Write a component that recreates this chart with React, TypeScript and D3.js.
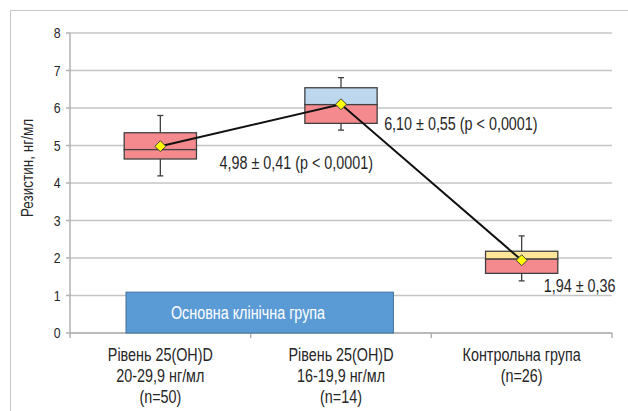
import React from "react";
import * as d3 from "d3";

const categories = ["g1", "g2", "g3"];
const categoryLines = [
  ["Рівень 25(OH)D", "20-29,9 нг/мл", "(n=50)"],
  ["Рівень 25(OH)D", "16-19,9 нг/мл", "(n=14)"],
  ["Контрольна група", "(n=26)"],
];
const means = [4.98, 6.1, 1.94];
const q1 = [4.64, 5.59, 1.59];
const medians = [4.89, 6.09, 1.97];
const q3 = [5.34, 6.54, 2.18];
const whiskerLow = [4.19, 5.41, 1.39];
const whiskerHigh = [5.8, 6.81, 2.59];
const upperColors = ["#F4898E", "#BDD7EE", "#FFE699"];
const lowerColor = "#F4898E";
const meanLabels = ["4,98 ± 0,41 (p < 0,0001)", "6,10 ± 0,55 (p < 0,0001)", "1,94 ± 0,36"];
const labelValues = [4.53, 5.57, 1.25];
const labelOffsets = [23, 7, -14];
const yTicks = [0, 1, 2, 3, 4, 5, 6, 7, 8];
const groupBarLabel = "Основна клінічна група";
const groupBarValue = 1.09;
const yTitle = "Резистин, нг/мл";

const FONT = "'Liberation Sans', Arial, sans-serif";
const SX = 0.82;

function NText(props: { x: number; y: number; rotate?: number; anchor?: string; size: number; fill?: string; children: React.ReactNode }) {
  const { x, y, rotate, anchor, size, fill, children } = props;
  const tr = `translate(${x},${y})${rotate ? ` rotate(${rotate})` : ""} scale(${SX},1)`;
  return (
    <text transform={tr} textAnchor={anchor || "start"} dy="0.36em" fontSize={size} fill={fill || "#262626"}>{children}</text>
  );
}

export default function App() {
  const W = 628, H = 411;
  const left = 70, right = 612, top = 33, bottom = 333;
  const x = d3.scaleBand().domain(categories).range([left, right]).padding(0);
  const y = d3.scaleLinear().domain([0, 8]).range([bottom, top]);
  const bw = x.bandwidth();
  const boxW = bw * 0.4;
  const cx = (i: number) => (x(categories[i]) as number) + bw / 2;
  const line = d3.line<number>().x((_, i) => cx(i)).y((d) => y(d));

  const barX0 = (x(categories[0]) as number) + bw * 0.31;
  const barX1 = (x(categories[1]) as number) + bw * 0.79;

  return (
    <svg width={W} height={H} style={{ position: "absolute", left: 0, top: 0 }} fontFamily={FONT}>
      <rect x={0} y={0} width={W} height={H} fill="#fff" />
      <rect x={10.5} y={10.5} width={700} height={500} fill="none" stroke="#8c8c8c" strokeWidth={1} strokeDasharray="1,1" />
      {yTicks.map((t) => (
        <line key={"g" + t} x1={left} x2={right} y1={y(t)} y2={y(t)} stroke="#c4c4c4" strokeWidth={1.5} />
      ))}
      <line x1={left} x2={left} y1={top} y2={bottom + 5} stroke="#b0b0b0" strokeWidth={1.5} />
      {yTicks.map((t) => (
        <g key={"t" + t}>
          <line x1={left - 4} x2={left} y1={y(t)} y2={y(t)} stroke="#b0b0b0" strokeWidth={1.5} />
          <NText x={60.5} y={y(t)} anchor="end" size={15}>{t}</NText>
        </g>
      ))}
      <line x1={left} x2={right} y1={bottom} y2={bottom} stroke="#b0b0b0" strokeWidth={1.5} />
      {categories.map((c) => (
        <line key={"xt" + c} x1={(x(c) as number) + bw} x2={(x(c) as number) + bw} y1={bottom} y2={bottom + 5} stroke="#b0b0b0" strokeWidth={1.5} />
      ))}
      {categoryLines.map((lines, i) =>
        lines.map((l, j) => (
          <NText key={"cl" + i + "-" + j} x={cx(i)} y={355 + j * 20.8} anchor="middle" size={17.5}>{l}</NText>
        ))
      )}
      <NText x={27} y={168} rotate={-90} anchor="middle" size={16.5}>{yTitle}</NText>
      <rect x={barX0} y={y(groupBarValue)} width={barX1 - barX0} height={y(0) - y(groupBarValue)} fill="#5B9BD5" stroke="#41719C" strokeWidth={1} />
      <NText x={248} y={(y(groupBarValue) + y(0)) / 2} anchor="middle" size={17.5} fill="#fff">{groupBarLabel}</NText>
      {categories.map((c, i) => {
        const x0 = cx(i) - boxW / 2;
        return (
          <g key={"b" + c}>
            <line x1={cx(i)} x2={cx(i)} y1={y(whiskerHigh[i])} y2={y(q3[i])} stroke="#404040" strokeWidth={1.3} />
            <line x1={cx(i)} x2={cx(i)} y1={y(q1[i])} y2={y(whiskerLow[i])} stroke="#404040" strokeWidth={1.3} />
            <line x1={cx(i) - 3} x2={cx(i) + 3} y1={y(whiskerHigh[i])} y2={y(whiskerHigh[i])} stroke="#404040" strokeWidth={1.3} />
            <line x1={cx(i) - 3} x2={cx(i) + 3} y1={y(whiskerLow[i])} y2={y(whiskerLow[i])} stroke="#404040" strokeWidth={1.3} />
            <rect x={x0} y={y(q3[i])} width={boxW} height={y(medians[i]) - y(q3[i])} fill={upperColors[i]} stroke="#404040" strokeWidth={1.3} />
            <rect x={x0} y={y(medians[i])} width={boxW} height={y(q1[i]) - y(medians[i])} fill={lowerColor} stroke="#404040" strokeWidth={1.3} />
          </g>
        );
      })}
      <path d={line(means) as string} fill="none" stroke="#111" strokeWidth={2} />
      {means.map((m, i) => (
        <path key={"d" + i} d={`M${cx(i)},${y(m) - 5.5}L${cx(i) + 5.5},${y(m)}L${cx(i)},${y(m) + 5.5}L${cx(i) - 5.5},${y(m)}Z`} fill="#FFFF00" stroke="#404040" strokeWidth={1} />
      ))}
      {meanLabels.map((t, i) => (
        <NText key={"ml" + i} x={cx(i) + boxW / 2 + labelOffsets[i]} y={y(labelValues[i])} size={17.5}>{t}</NText>
      ))}
    </svg>
  );
}
